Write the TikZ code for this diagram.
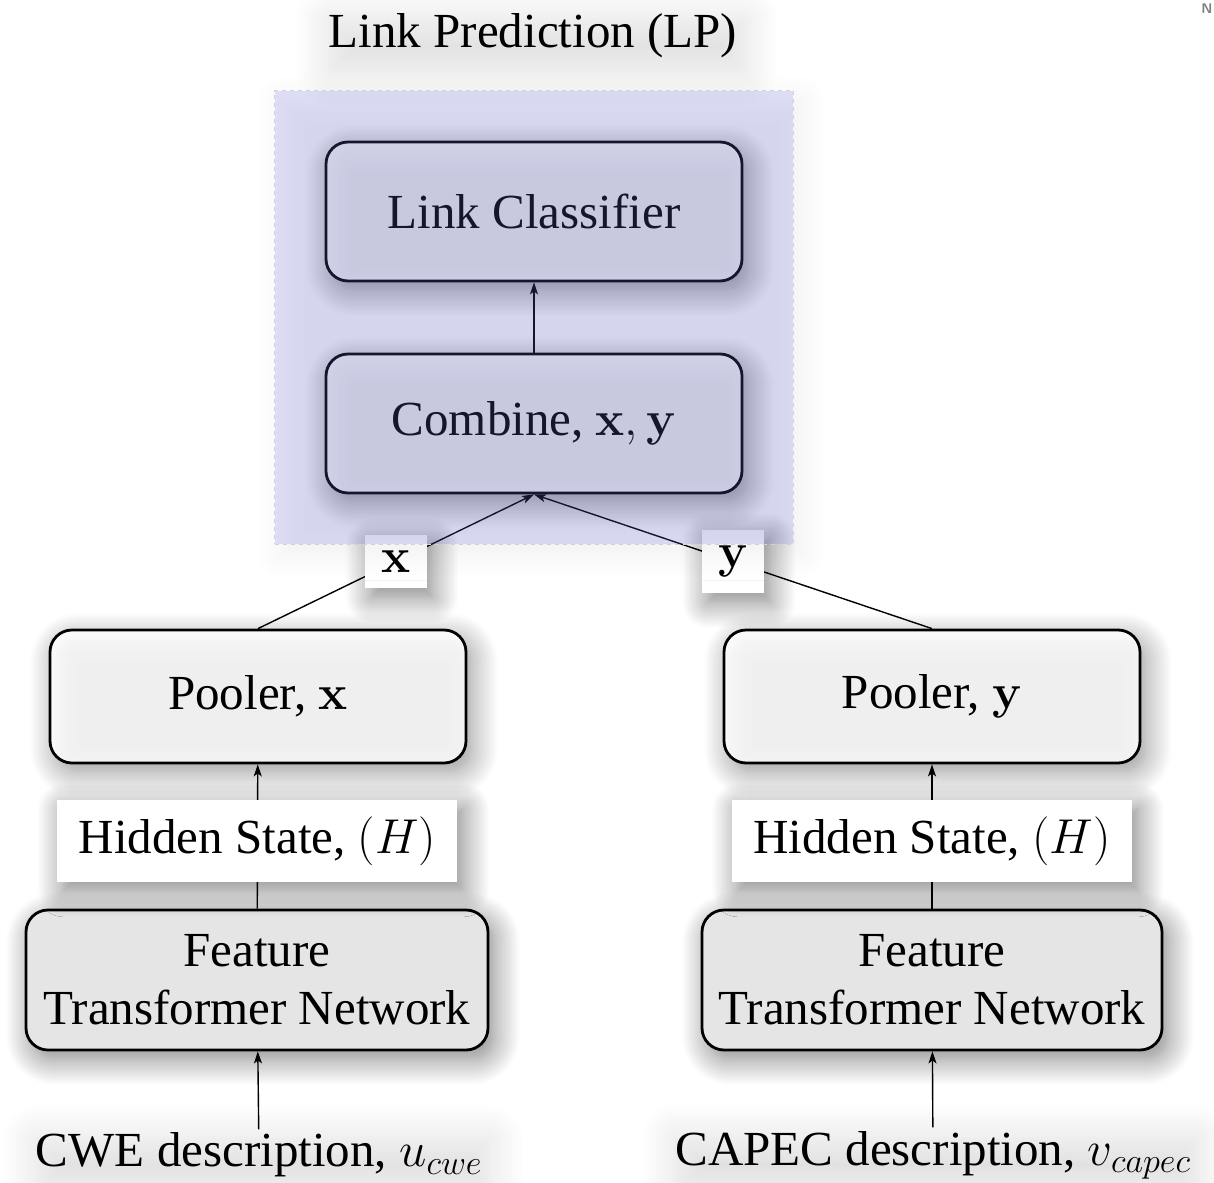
\documentclass[tikz,border=0pt]{standalone}
\usepackage{fix-cm}
\usepackage[no-math]{fontspec}
\setmainfont{Liberation Serif}
\usetikzlibrary{arrows.meta,fit,shadows.blur}
\definecolor{lpblue}{RGB}{105,105,225}
\begin{document}
\begin{tikzpicture}[x=1pt,y=-1pt,
  font=\fontsize{49}{58}\selectfont,
  shad/.style={blur shadow={shadow xshift=6pt,shadow yshift=-9pt,shadow blur radius=26pt,shadow opacity=50,shadow blur steps=16}},
  tshad/.style={blur shadow={shadow xshift=4pt,shadow yshift=-10pt,shadow blur radius=34pt,shadow opacity=13,shadow blur steps=16}},
  blk/.style={shad, draw=black, line width=2.8pt, rounded corners=22pt, fill=white, fill opacity=0.85, text opacity=1, draw opacity=1, minimum width=416pt, inner sep=0pt},
  feat/.style={shad, draw=black, line width=2.8pt, rounded corners=22pt, fill=black!10, minimum width=462pt, minimum height=140pt, inner sep=0pt, align=center},
  hid/.style={shad, fill=white, minimum width=400pt, minimum height=82pt, inner sep=0pt},
  lbl/.style={shad, fill=white, inner sep=16pt},
  txt/.style={tshad},
  arr/.style={-{Stealth[length=12pt,width=8pt,inset=3pt]}, line width=1.4pt}
]
\useasboundingbox (0,0) rectangle (1214,1182);

\node[txt] (title) at (533,36) {Link Prediction (LP)};

\node[blk, minimum height=139pt] (LC) at (534,211.5) {Link Classifier};
\node[blk, minimum height=139pt] (CB) at (534,423.5) {Combine, $\mathbf{x}, \mathbf{y}$};

\node[blk, minimum height=133pt] (PX) at (258,696.5) {Pooler, $\mathbf{x}$};
\node[blk, minimum height=133pt] (PY) at (932,696.5) {Pooler, $\mathbf{y}$};

\node[feat] (FX) at (257,980) {Feature\\Transformer Network};
\node[feat, minimum width=460pt] (FY) at (932,980) {Feature\\Transformer Network};

\node[txt] (CWE) at (259,1155) {CWE description, $u_{cwe}$};
\node[txt] (CAPEC) at (933,1155) {CAPEC description, $v_{capec}$};

\draw[arr] (CB) -- (LC);
\draw[arr] (PX.north) -- node[lbl] (lx) {$\mathbf{x}$} (CB.south);
\draw[arr] (PY.north) -- node[lbl] (ly) {$\mathbf{y}$} (CB.south);
\draw[arr] (FX) -- node[hid, pos=0.47] (HX) {Hidden State, $(H)$} (PX);
\draw[arr] (FY) -- node[hid, pos=0.47] (HY) {Hidden State, $(H)$} (PY);
\draw[arr] (CWE) -- (FX);
\draw[arr] (CAPEC) -- (FY);

\node[fit=(LC)(CB), inner sep=50pt, fill=lpblue, fill opacity=0.2,
      draw=gray!35, draw opacity=1, line width=1.6pt, dash pattern=on 4pt off 4pt,
      blur shadow={shadow xshift=8pt,shadow yshift=-10pt,shadow blur radius=26pt,shadow opacity=30,shadow blur steps=16}] (LP) {};

\node[text=gray, font=\sffamily\bfseries\fontsize{14}{14}\selectfont, inner sep=0pt] (cut) at (1207,9) {N};
\end{tikzpicture}
\end{document}
